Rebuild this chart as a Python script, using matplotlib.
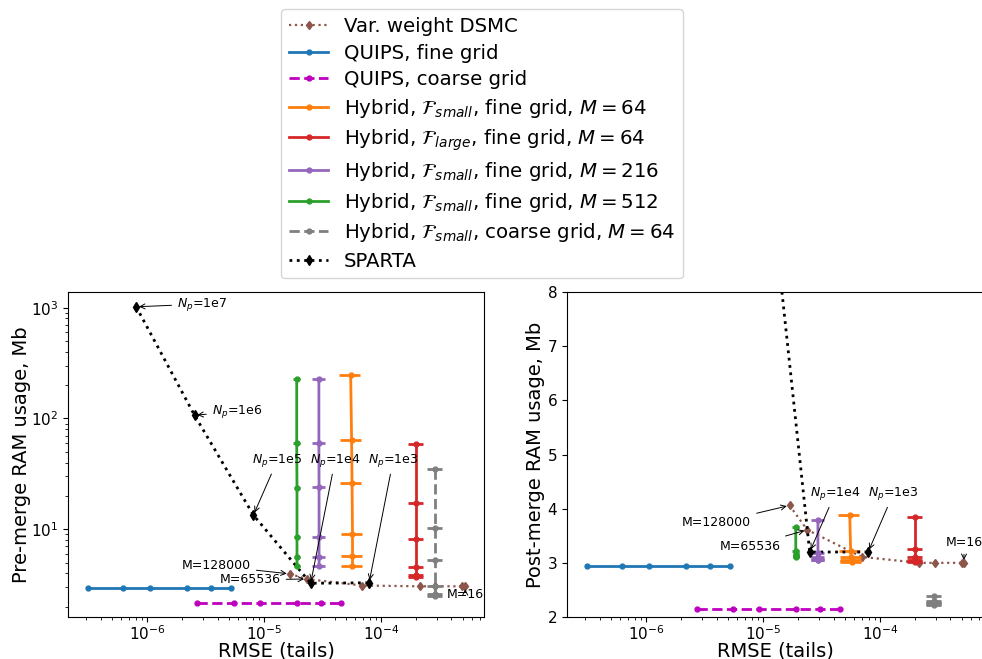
import numpy as np
import matplotlib
matplotlib.use("Agg")
import matplotlib.pyplot as plt

# ---------------- data ----------------
sparta_rmse = [8.05e-7, 2.54e-6, 8.1e-6, 2.5e-5, 7.9e-5]
sparta_pre = [1020, 107, 13.4, 3.25, 3.28]
sparta_post = [1020, 107, 13.1, 3.2, 3.2]
sparta_labels = ['1e7', '1e6', '1e5', '1e4', '1e3']

vw_rmse_pre = [1.65e-5, 2.32e-5, 6.84e-5, 2.15e-4, 2.9e-4, 4.9e-4, 5.25e-4]
vw_pre = [3.95, 3.55, 3.1, 3.05, 3.05, 3.05, 3.05]
vw_rmse_post = [1.68e-5, 2.38e-5, 6.97e-5, 2.17e-4, 2.95e-4, 5.0e-4, 5.2e-4]
vw_post = [4.06, 3.61, 3.11, 3.0, 3.0, 3.0, 3.0]

quips_fine_rmse = [3.1e-7, 6.2e-7, 1.05e-6, 2.18e-6, 3.52e-6, 5.2e-6]
quips_fine_ram = [2.95, 2.95, 2.95, 2.95, 2.95, 2.95]
quips_coarse_rmse = [2.69e-6, 5.5e-6, 9.2e-6, 1.9e-5, 3.05e-5, 4.52e-5]
quips_coarse_ram = [2.15, 2.15, 2.15, 2.15, 2.15, 2.15]

hyb64_rmse = [5.5e-5, 5.6e-5, 5.65e-5, 5.7e-5, 5.7e-5, 5.7e-5]
hyb64_pre = [245, 63.8, 26.3, 9.0, 5.75, 4.67]
hyb64_post = [3.89, 3.22, 3.11, 3.06, 3.03, 3.02]
hyb64_xerr = [1.15e-5, 1.15e-5, 1.15e-5, 1.15e-5, 1.15e-5, 1.15e-5]

hyblarge_rmse = [2.0e-4, 2.0e-4, 2.0e-4, 2.0e-4, 2.0e-4, 2.0e-4]
hyblarge_pre = [58.3, 17.4, 8.13, 4.6, 3.88, 3.7]
hyblarge_post = [3.84, 3.26, 3.1, 3.05, 3.03, 3.02]
hyblarge_xerr = [3.0e-5, 3.0e-5, 3.0e-5, 3.0e-5, 3.0e-5, 3.0e-5]

hyb216_rmse = [2.94e-5, 2.94e-5, 2.95e-5, 2.95e-5, 2.95e-5, 2.95e-5]
hyb216_pre = [229, 60.5, 24.2, 8.5, 5.6, 4.67]
hyb216_post = [3.8, 3.18, 3.1, 3.07, 3.05, 3.05]
hyb216_xerr = [3.8e-6, 3.8e-6, 3.8e-6, 3.8e-6, 3.8e-6, 3.8e-6]

hyb512_rmse = [1.9e-5, 1.9e-5, 1.91e-5, 1.91e-5, 1.91e-5, 1.91e-5]
hyb512_pre = [229, 59.5, 23.7, 8.53, 5.6, 4.67]
hyb512_post = [3.66, 3.21, 3.16, 3.13, 3.12, 3.11]
hyb512_xerr = [1.2e-6, 1.2e-6, 1.2e-6, 1.2e-6, 1.2e-6, 1.2e-6]

hybcoarse_rmse = [2.88e-4, 2.88e-4, 2.88e-4, 2.88e-4, 2.88e-4, 2.88e-4]
hybcoarse_pre = [34.7, 10.3, 5.29, 3.09, 2.61, 2.51]
hybcoarse_post = [2.38, 2.3, 2.27, 2.25, 2.24, 2.23]
hybcoarse_xerr = [4.3e-5, 4.3e-5, 4.3e-5, 4.3e-5, 4.3e-5, 4.3e-5]

labels = [
    'Var. weight DSMC',
    'QUIPS, fine grid',
    'QUIPS, coarse grid',
    r'Hybrid, $\mathcal{F}_{small}$, fine grid, $M = 64$',
    r'Hybrid, $\mathcal{F}_{large}$, fine grid, $M = 64$',
    r'Hybrid, $\mathcal{F}_{small}$, fine grid, $M = 216$',
    r'Hybrid, $\mathcal{F}_{small}$, fine grid, $M = 512$',
    r'Hybrid, $\mathcal{F}_{small}$, coarse grid, $M = 64$',
    'SPARTA',
]

# ---------------- figure ----------------
fig = plt.figure(figsize=(9.82, 6.59), dpi=100)
ax1 = fig.add_axes([0.0692, 0.0637, 0.4237, 0.4932])
ax2 = fig.add_axes([0.5774, 0.0637, 0.4237, 0.4932])

def draw(ax, vw_x, vw_y, sp_y, h64, hl, h216, h512, hc):
    hs = []
    hs.append(ax.plot(vw_x, vw_y, ':', color='tab:brown', marker='d', ms=4.5, lw=1.6)[0])
    hs.append(ax.plot(quips_fine_rmse, quips_fine_ram, '-', color='tab:blue', marker='.', ms=7, lw=2)[0])
    hs.append(ax.plot(quips_coarse_rmse, quips_coarse_ram, '--', color='m', marker='.', ms=7, lw=2)[0])
    kw = dict(marker='.', ms=7, lw=2, elinewidth=2)
    hs.append(ax.errorbar(hyb64_rmse, h64, xerr=hyb64_xerr, fmt='-', color='tab:orange', **kw)[0])
    hs.append(ax.errorbar(hyblarge_rmse, hl, xerr=hyblarge_xerr, fmt='-', color='tab:red', **kw)[0])
    hs.append(ax.errorbar(hyb216_rmse, h216, xerr=hyb216_xerr, fmt='-', color='tab:purple', **kw)[0])
    hs.append(ax.errorbar(hyb512_rmse, h512, xerr=hyb512_xerr, fmt='-', color='tab:green', **kw)[0])
    hs.append(ax.errorbar(hybcoarse_rmse, hc, xerr=hybcoarse_xerr, fmt='--', color='tab:gray', **kw)[0])
    hs.append(ax.plot(sparta_rmse, sp_y, ':', color='k', marker='d', ms=5, lw=2)[0])
    ax.set_xscale('log')
    ax.set_xlim(2.1e-7, 7.6e-4)
    ax.set_xlabel('RMSE (tails)', fontsize=14, labelpad=-1)
    ax.tick_params(labelsize=11)
    ax.tick_params(axis='x', which='major', pad=1.5)
    return hs

handles = draw(ax1, vw_rmse_pre, vw_pre, sparta_pre, hyb64_pre, hyblarge_pre, hyb216_pre, hyb512_pre, hybcoarse_pre)
ax1.set_yscale('log')
ax1.set_ylim(1.61, 1387)
ax1.set_ylabel('Pre-merge RAM usage, Mb', fontsize=14, labelpad=0)

draw(ax2, vw_rmse_post, vw_post, sparta_post, hyb64_post, hyblarge_post, hyb216_post, hyb512_post, hybcoarse_post)
ax2.set_ylim(2, 8)
ax2.set_ylabel('Post-merge RAM usage, Mb', fontsize=14, labelpad=2)

arw = dict(arrowstyle='->', color='k', lw=0.7)
afs = 9

# left annotations
ax1.annotate(r'$N_p$=1e7', xy=(sparta_rmse[0], sparta_pre[0]), xytext=(1.8e-6, 1080),
             ha='left', va='center', fontsize=afs, arrowprops=arw)
ax1.annotate(r'$N_p$=1e6', xy=(sparta_rmse[1], sparta_pre[1]), xytext=(3.57e-6, 115),
             ha='left', va='center', fontsize=afs, arrowprops=arw)
ax1.annotate(r'$N_p$=1e5', xy=(sparta_rmse[2], sparta_pre[2]), xytext=(1.3e-5, 42),
             ha='center', va='center', fontsize=afs, arrowprops=arw)
ax1.annotate(r'$N_p$=1e4', xy=(sparta_rmse[3], sparta_pre[3]), xytext=(4.05e-5, 42),
             ha='center', va='center', fontsize=afs, arrowprops=arw)
ax1.annotate(r'$N_p$=1e3', xy=(sparta_rmse[4], sparta_pre[4]), xytext=(1.27e-4, 42),
             ha='center', va='center', fontsize=afs, arrowprops=arw)
ax1.annotate('M=128000', xy=(vw_rmse_pre[0], vw_pre[0]), xytext=(3.9e-6, 4.67),
             ha='center', va='center', fontsize=afs, arrowprops=arw)
ax1.annotate('M=65536', xy=(vw_rmse_pre[1], vw_pre[1]), xytext=(7.6e-6, 3.49),
             ha='center', va='center', fontsize=afs, arrowprops=arw)
ax1.annotate('M=16', xy=(vw_rmse_pre[-1], vw_pre[-1]), xytext=(5.25e-4, 2.56),
             ha='center', va='center', fontsize=afs, arrowprops=arw)

# right annotations
ax2.annotate(r'$N_p$=1e4', xy=(sparta_rmse[3], sparta_post[3]), xytext=(4.12e-5, 4.28),
             ha='center', va='center', fontsize=afs, arrowprops=arw)
ax2.annotate(r'$N_p$=1e3', xy=(sparta_rmse[4], sparta_post[4]), xytext=(1.3e-4, 4.28),
             ha='center', va='center', fontsize=afs, arrowprops=arw)
ax2.annotate('M=128000', xy=(vw_rmse_post[0], vw_post[0]), xytext=(4.0e-6, 3.74),
             ha='center', va='center', fontsize=afs, arrowprops=arw)
ax2.annotate('M=65536', xy=(vw_rmse_post[1], vw_post[1]), xytext=(7.8e-6, 3.31),
             ha='center', va='center', fontsize=afs, arrowprops=arw)
ax2.annotate('M=16', xy=(vw_rmse_post[-1], vw_post[-1]), xytext=(5.25e-4, 3.38),
             ha='center', va='center', fontsize=afs, arrowprops=arw, annotation_clip=False)

fig.legend(handles, labels, loc='upper center', bbox_to_anchor=(0.491, 0.986),
           fontsize=14.2, labelspacing=0.38, borderaxespad=0.0)

fig.savefig('out.png', dpi=100)
